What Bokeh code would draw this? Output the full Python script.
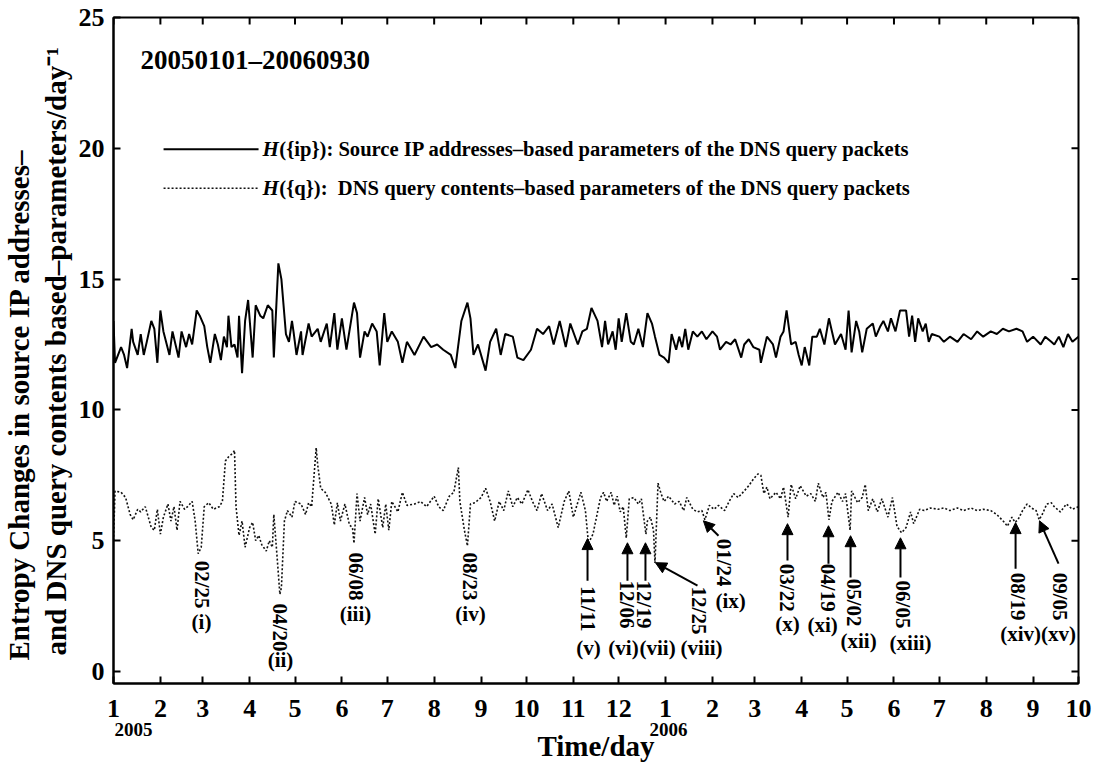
import math
from bokeh.plotting import figure
from bokeh.models import Range1d, LinearAxis, FixedTicker, Arrow, NormalHead, ColumnDataSource, Title
from bokeh.core.properties import value
from bokeh.embed import file_html
from bokeh.resources import INLINE

# ---------------- data (day index since 2005-01-01) ----------------
ip_day = [0, 1, 5, 7, 9, 12, 13, 16, 18, 20, 22, 25, 27, 29, 31, 33, 37, 39, 41, 43, 45, 48, 50, 52, 55, 57, 60, 62, 64, 67,
          69, 71, 73, 75, 76, 78, 80, 82, 83, 85, 87, 89, 92, 94, 97, 99, 102, 105, 106, 109, 111, 114, 116, 118, 119, 121,
          124, 125, 129, 131, 135, 137, 141, 143, 146, 148, 151, 154, 159, 161, 163, 166, 168, 171, 174, 176, 179, 181, 184,
          188, 191, 194, 199, 205, 210, 214, 218, 223, 226, 230, 234, 236, 238, 241, 246, 249, 253, 256, 259, 264, 267, 271,
          276, 280, 284, 288, 291, 295, 299, 302, 307, 310, 313, 316, 320, 323, 325, 327, 330, 332, 334, 336, 339, 342, 344,
          347, 350, 353, 356, 358, 361, 364, 367, 369, 372, 374, 376, 378, 380, 383, 386, 389, 392, 396, 399, 401, 405, 408,
          411, 415, 417, 420, 423, 427, 428, 432, 436, 438, 441, 443, 445, 448, 451, 453, 455, 457, 460, 462, 465, 467, 470,
          473, 475, 477, 481, 484, 486, 488, 491, 493, 495, 498, 502, 504, 507, 509, 512, 514, 517, 520, 524, 526, 528, 530,
          532, 535, 537, 539, 541, 546, 549, 553, 558, 562, 567, 571, 575, 580, 584, 588, 592, 597, 601, 604, 608, 613, 616,
          620, 622, 625, 628, 631, 634, 638]
ip_val = [13.4, 11.8, 12.4, 12.1, 11.6, 13.1, 12.6, 12.1, 12.9, 12.1, 12.6, 13.4, 13.1, 11.8, 13.8, 13.0, 12.1, 13.0, 12.5,
          12.0, 13.0, 12.4, 12.9, 12.5, 13.8, 13.6, 13.2, 12.4, 11.8, 12.9, 12.5, 11.9, 12.8, 12.4, 13.6, 12.4, 12.5, 12.0,
          13.6, 11.4, 13.4, 14.2, 12.0, 14.0, 13.6, 13.5, 14.0, 13.8, 12.0, 15.6, 15.0, 12.9, 12.6, 13.4, 13.0, 12.1, 13.0,
          12.1, 13.3, 12.8, 13.1, 12.6, 13.3, 12.4, 13.7, 12.3, 13.5, 12.3, 14.1, 13.7, 12.0, 13.0, 12.8, 13.3, 13.0, 11.7,
          13.7, 12.6, 13.0, 12.6, 11.8, 12.6, 12.1, 12.8, 12.4, 12.5, 12.3, 12.1, 11.6, 13.4, 14.1, 13.5, 12.1, 12.5, 11.5,
          12.6, 13.1, 12.1, 12.9, 12.8, 12.0, 11.9, 12.3, 13.1, 12.9, 13.2, 12.5, 13.4, 12.4, 13.3, 12.5, 13.0, 13.1, 13.9,
          13.4, 12.4, 13.4, 12.5, 13.0, 12.3, 13.5, 12.6, 13.7, 12.6, 12.5, 13.1, 12.4, 13.7, 13.3, 12.8, 12.1, 12.0, 11.8,
          12.9, 12.3, 12.8, 12.4, 13.1, 12.3, 13.0, 12.8, 13.0, 12.7, 13.0, 12.8, 12.3, 12.6, 12.5, 12.7, 12.0, 12.5, 12.7,
          12.4, 12.3, 11.8, 12.8, 12.5, 12.0, 12.8, 13.0, 13.8, 12.5, 12.6, 12.1, 11.7, 12.4, 11.7, 12.8, 12.8, 13.1, 12.5,
          13.5, 13.0, 12.5, 12.9, 12.3, 13.8, 12.2, 13.4, 13.0, 12.2, 13.1, 13.3, 12.8, 13.2, 13.4, 13.0, 13.5, 13.0, 13.8,
          13.8, 12.8, 13.6, 12.6, 13.5, 13.0, 13.3, 12.6, 12.9, 12.8, 12.6, 12.8, 12.6, 12.9, 12.7, 13.0, 12.8, 13.0, 12.9,
          13.1, 13.0, 13.1, 13.0, 12.6, 12.8, 12.5, 12.8, 12.6, 12.5, 12.8, 12.4, 12.9, 12.6, 12.8]

q_day = [0, 1, 5, 8, 11, 13, 16, 18, 21, 25, 27, 29, 31, 33, 36, 38, 40, 42, 44, 47, 49, 52, 54, 56, 58, 60, 63, 66, 70, 72,
         74, 76, 79, 80, 81, 83, 85, 87, 90, 92, 94, 96, 98, 101, 103, 105, 106, 108, 110, 111, 113, 115, 118, 120, 124, 127,
         129, 131, 134, 135, 137, 140, 144, 146, 148, 150, 153, 156, 158, 159, 161, 163, 166, 168, 170, 173, 175, 178, 180,
         182, 184, 188, 191, 194, 199, 203, 207, 212, 215, 218, 222, 225, 228, 229, 232, 234, 236, 239, 243, 246, 249, 252,
         255, 258, 261, 264, 267, 270, 274, 277, 280, 283, 287, 290, 294, 298, 301, 304, 309, 312, 314, 317, 322, 324, 326,
         329, 331, 333, 335, 337, 339, 341, 344, 347, 349, 352, 353, 355, 357, 358, 360, 362, 364, 367, 371, 374, 377, 379,
         383, 386, 389, 391, 394, 397, 400, 404, 407, 410, 413, 417, 420, 423, 426, 428, 430, 432, 434, 438, 441, 443, 446,
         448, 451, 454, 458, 461, 464, 466, 469, 471, 473, 475, 479, 482, 484, 487, 488, 492, 495, 497, 499, 502, 505, 508,
         512, 515, 518, 521, 524, 527, 529, 533, 536, 540, 545, 549, 553, 558, 562, 567, 571, 575, 580, 584, 589, 591, 594,
         596, 598, 601, 604, 607, 610, 612, 614, 617, 620, 622, 626, 630, 634, 638]
q_val = [5.0, 6.9, 6.85, 6.65, 6.0, 5.8, 6.2, 6.1, 6.3, 5.5, 5.4, 6.2, 5.25, 5.9, 6.4, 5.75, 6.3, 5.4, 6.5, 6.2, 6.3, 6.5,
         5.75, 4.5, 4.75, 6.3, 6.45, 6.2, 6.3, 6.5, 8.05, 8.2, 8.35, 8.45, 6.3, 5.2, 5.75, 4.75, 5.5, 5.7, 5.0, 5.2, 4.85,
         4.6, 5.0, 4.75, 6.0, 4.5, 2.95, 3.2, 5.75, 6.15, 5.9, 6.5, 6.4, 6.0, 6.45, 6.3, 8.55, 7.9, 7.0, 6.85, 6.4, 5.6,
         6.45, 5.75, 6.4, 5.6, 5.5, 4.9, 6.8, 5.75, 6.65, 6.0, 6.4, 5.25, 6.6, 5.5, 6.4, 5.4, 6.5, 6.1, 6.85, 6.35, 6.4,
         6.5, 6.3, 6.7, 6.3, 6.15, 6.7, 6.85, 7.8, 6.5, 5.4, 4.8, 6.4, 6.45, 6.65, 7.0, 6.5, 5.75, 6.5, 6.15, 6.9, 6.3,
         6.65, 6.4, 6.95, 6.5, 6.15, 6.8, 6.15, 6.4, 5.5, 6.5, 6.9, 5.9, 6.85, 6.15, 4.9, 5.25, 6.65, 6.85, 6.5, 6.85,
         6.35, 6.7, 6.1, 6.3, 5.1, 6.6, 6.65, 6.4, 6.6, 5.25, 5.75, 5.9, 5.4, 4.15, 7.2, 6.8, 6.5, 6.7, 6.4, 6.5, 6.15,
         6.65, 6.2, 6.1, 6.15, 5.8, 6.35, 6.2, 6.35, 6.15, 6.5, 6.8, 6.65, 6.9, 7.1, 7.35, 7.55, 7.5, 6.8, 7.05, 6.6,
         6.85, 6.6, 7.05, 5.9, 7.15, 6.6, 7.1, 6.7, 6.8, 6.5, 7.2, 6.65, 6.85, 5.8, 6.5, 6.85, 6.5, 6.8, 5.4, 6.9, 6.45,
         6.65, 7.15, 6.15, 6.6, 6.1, 6.6, 5.9, 6.65, 5.55, 5.3, 5.5, 6.1, 5.65, 6.2, 6.15, 6.25, 6.2, 6.25, 6.15, 6.25,
         6.15, 6.25, 6.15, 6.2, 6.15, 6.0, 5.7, 5.55, 5.9, 5.7, 5.8, 6.15, 6.4, 6.25, 6.15, 5.8, 6.0, 6.4, 6.45, 6.3,
         6.1, 6.4, 6.2, 6.3]

month_ticks = [0, 31, 59, 90, 120, 151, 181, 212, 243, 273, 304, 334, 365, 396, 424, 455, 485, 516, 546, 577, 608, 638]
month_labels = ["1", "2", "3", "4", "5", "6", "7", "8", "9", "10", "11", "12",
                "1", "2", "3", "4", "5", "6", "7", "8", "9", "10"]
year_labels = ["2005", "2006"]
year_label_pos = [13.2, 367]
y_ticks = [0, 5, 10, 15, 20, 25]

# event annotations: date text, roman id
ev_date = ["02/25", "04/20", "06/08", "08/23", "11/11", "12/06", "12/19", "12/25", "01/24",
           "03/22", "04/19", "05/02", "06/05", "08/19", "09/05"]
ev_id = ["(i)", "(ii)", "(iii)", "(iv)", "(v)", "(vi)", "(vii)", "(viii)", "(ix)",
         "(x)", "(xi)", "(xii)", "(xiii)", "(xiv)", "(xv)"]
# label anchor positions (day, value)
ev_date_x = [58.2, 110.4, 160, 236, 314, 339.2, 351, 387.4, 403.3, 445.6, 472.7, 489.3, 521.7, 597.7, 625.5]
ev_date_y = [3.32, 1.68, 3.63, 3.63, 2.4, 2.56, 2.56, 2.33, 4.16, 3.2, 3.2, 2.63, 2.56, 2.86, 2.86]
ev_id_x = [58.2, 110.4, 160, 236, 314, 337.2, 359.7, 388.8, 408, 445.6, 468.8, 492.6, 527, 599.7, 624.8]
ev_id_y = [1.91, 0.42, 2.21, 2.21, 0.88, 0.88, 0.88, 0.88, 2.71, 1.83, 1.79, 1.18, 1.07, 1.45, 1.45]
# arrows (tail -> tip) for events v..xv
arr_x0 = [313.4, 339.8, 351.7, 386.1, 400.0, 445.6, 472.7, 487.3, 520.3, 596.4, 624.8]
arr_y0 = [3.47, 3.47, 3.47, 3.28, 5.19, 4.24, 4.12, 3.59, 3.59, 3.93, 4.12]
arr_x1 = [313.4, 339.8, 351.7, 358.3, 390.0, 445.6, 472.7, 487.3, 520.3, 596.4, 612.2]
arr_y1 = [5.08, 4.92, 4.92, 4.16, 5.76, 5.65, 5.57, 5.19, 5.11, 5.69, 5.76]

legend_ip = "({ip}): Source IP addresses\u2013based parameters of the DNS query packets"
legend_q = "({q}):\u00a0 DNS query contents\u2013based parameters of the DNS query packets"
ylabel_1 = "Entropy Changes in source IP addresses\u2013"
ylabel_2 = "and DNS query contents based\u2013parameters/day\u207b\u00b9"

# ---------------- figure ----------------
FONT = "Liberation Serif"
X0, X1, Y0, Y1 = 0, 638, -0.46, 25
FRAME_W, FRAME_H = 965, 666
p = figure(width=1094, height=767, x_range=Range1d(X0, X1), y_range=Range1d(Y0, Y1),
           output_backend="svg", toolbar_location=None,
           min_border_left=113, min_border_right=16, min_border_top=17, min_border_bottom=84)
p.xgrid.visible = False
p.ygrid.visible = False
p.outline_line_color = "black"
p.outline_line_width = 2
p.background_fill_color = "white"
p.border_fill_color = "white"

bottom = p.below[0]
left = p.left[0]
bottom.ticker = FixedTicker(ticks=month_ticks)
bottom.major_label_overrides = {t: l for t, l in zip(month_ticks, month_labels)}
left.ticker = FixedTicker(ticks=y_ticks)
for ax in [bottom, left]:
    ax.major_tick_in = 7
    ax.major_tick_out = 0
    ax.minor_tick_in = 0
    ax.minor_tick_out = 0
    ax.major_tick_line_width = 2
    ax.axis_line_width = 2
    ax.axis_line_color = "black"
    ax.major_tick_line_color = "black"
    ax.major_label_text_font = FONT
    ax.major_label_text_font_style = "bold"
    ax.major_label_text_font_size = "26px"
    ax.major_label_text_color = "black"
bottom.major_label_standoff = 16
left.major_label_standoff = 9

# second bottom axis carrying the year labels and the axis title
years = LinearAxis(ticker=FixedTicker(ticks=year_label_pos),
                   major_label_overrides={t: l for t, l in zip(year_label_pos, year_labels)})
years.axis_line_color = None
years.major_tick_in = 0
years.major_tick_out = 0
years.minor_tick_in = 0
years.minor_tick_out = 0
years.major_label_standoff = 3
years.major_label_text_font = FONT
years.major_label_text_font_style = "bold"
years.major_label_text_font_size = "19px"
years.major_label_text_color = "black"
years.axis_label = "Time/day"
years.axis_label_text_font = FONT
years.axis_label_text_font_style = "bold"
years.axis_label_text_font_size = "29px"
years.axis_label_text_color = "black"
years.axis_label_standoff = -9
p.add_layout(years, "below")

# y-axis title, two left-aligned lines
t2 = Title(text=ylabel_2, align="left", offset=28, text_font=FONT, text_font_style="bold",
           text_font_size="29px", text_color="black", standoff=7)
t1 = Title(text=ylabel_1, align="left", offset=23, text_font=FONT, text_font_style="bold",
           text_font_size="29px", text_color="black", standoff=0)
p.add_layout(t2, "left")
p.add_layout(t1, "left")

# inward ticks on the top and right edges of the frame
tick_dy = 7 * (Y1 - Y0) / FRAME_H
tick_dx = 7 * (X1 - X0) / FRAME_W
p.segment(x0=month_ticks, y0=[Y1] * len(month_ticks), x1=month_ticks, y1=[Y1 - tick_dy] * len(month_ticks),
          line_color="black", line_width=2)
p.segment(x0=[X1] * len(y_ticks), y0=y_ticks, x1=[X1 - tick_dx] * len(y_ticks), y1=y_ticks,
          line_color="black", line_width=2)

# series
p.line(ip_day, ip_val, line_color="black", line_width=2)
p.line(q_day, q_val, line_color="#111111", line_width=1.6, line_dash="2 2")

# legend keys (positions in data units)
p.line([33.1, 95.9], [19.96, 19.96], line_color="black", line_width=2)
p.line([33.1, 95.9], [18.47, 18.47], line_color="#111111", line_width=1.6, line_dash="2 2")

tstyle = dict(text_font=value(FONT), text_font_style="bold", text_color="black")
p.text(x=[98.5, 98.5], y=[19.96, 18.47], text=["H", "H"], text_align="left", text_baseline="middle",
       text_font=value(FONT), text_font_style="bold italic", text_font_size="21px", text_color="black")
p.text(x=[109.6, 109.6], y=[19.96, 18.47], text=[legend_ip, legend_q], text_align="left",
       text_baseline="middle", text_font_size="20.6px", **tstyle)

# title inside
p.text(x=[17.9], y=[23.36], text=["20050101\u201320060930"], text_align="left", text_baseline="middle",
       text_font_size="27px", **tstyle)

# event annotations
p.text(x=ev_date_x, y=ev_date_y, text=ev_date, angle=-math.pi / 2, text_align="center",
       text_baseline="middle", text_font_size="21px", **tstyle)
p.text(x=ev_id_x, y=ev_id_y, text=ev_id, text_align="center", text_baseline="middle",
       text_font_size="21px", **tstyle)
arr_src = ColumnDataSource(dict(x0=arr_x0, y0=arr_y0, x1=arr_x1, y1=arr_y1))
p.add_layout(Arrow(end=NormalHead(size=11, fill_color="black", line_color="black", line_width=1),
                   x_start="x0", y_start="y0", x_end="x1", y_end="y1", source=arr_src,
                   line_width=2, line_color="black"))

open("out.html", "w").write(file_html(p, INLINE))
